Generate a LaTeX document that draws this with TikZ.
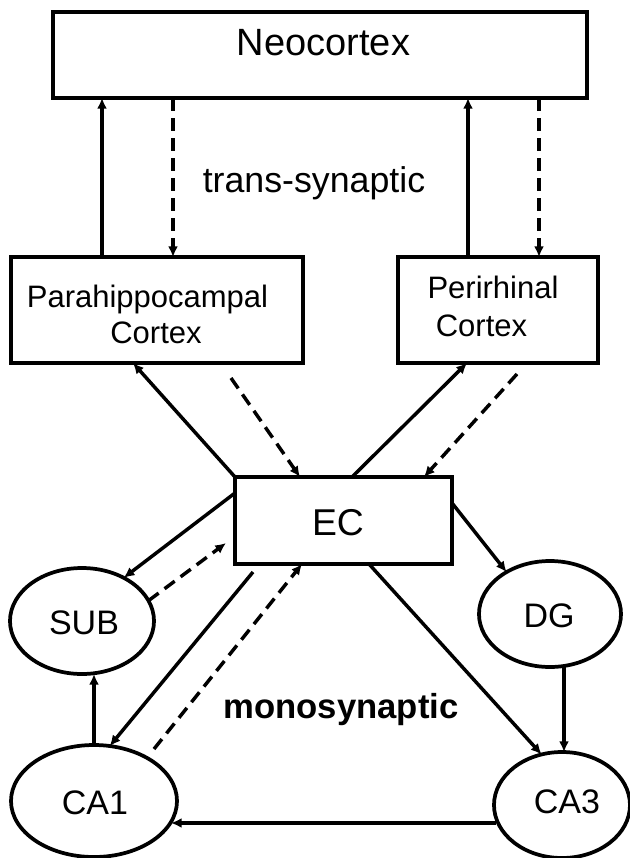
\documentclass[tikz,border=0pt]{standalone}
\usepackage{fontspec}
\setmainfont{Liberation Sans}
\usetikzlibrary{shapes.geometric,arrows.meta,calc}
\begin{document}
\begin{tikzpicture}[x=0.75pt,y=-0.75pt,
  box/.style={draw,line width=3pt,rectangle,inner sep=0pt,outer sep=0pt},
  oval/.style={draw,line width=2.8pt,ellipse,inner sep=0pt,outer sep=0pt},
  conn/.style={line width=2.6pt,-{Latex[length=8pt,width=7.5pt]}},
  dconn/.style={conn,dash pattern=on 9.5pt off 5.5pt},
  lbl/.style={anchor=base,inner sep=0pt},
  big/.style={font=\fontsize{28.5}{32}\selectfont},
  mid/.style={font=\fontsize{23.25}{26}\selectfont},
  ovl/.style={font=\fontsize{25.5}{28}\selectfont}]
\fill[white] (0,0) rectangle (630,858);
\useasboundingbox (0,0) rectangle (630,858);

% boxes and ovals
\node[box,minimum width=400.5pt,minimum height=64.5pt] (neo) at (320,55) {};
\node[box,minimum width=219pt,minimum height=79.5pt] (para) at (157,310) {};
\node[box,minimum width=150pt,minimum height=79.5pt] (peri) at (498,310) {};
\node[box,minimum width=162.75pt,minimum height=65.25pt] (ec) at (343.5,520.5) {};
\node[oval,minimum width=108pt,minimum height=79.5pt] (sub) at (82,621) {};
\node[oval,minimum width=106.5pt,minimum height=79.5pt] (dg) at (550,614) {};
\node[oval,minimum width=124.5pt,minimum height=84pt] (ca1) at (94,801) {};
\node[oval,minimum width=102pt,minimum height=79.5pt] (ca3) at (562,805) {};

% labels
\node[lbl,big] (neot) at (323.5,55) {Neocortex};
\node[lbl,font=\fontsize{26.8}{30}\selectfont] (trans) at (314,192) {trans-synaptic};
\node[lbl,font=\fontsize{26}{30}\selectfont\bfseries] (mono) at (341,718) {monosynaptic};
\node[lbl,mid] (parat1) at (147.5,307) {Parahippocampal};
\node[lbl,mid] (parat2) at (156,343) {Cortex};
\node[lbl,mid] (perit1) at (493,298) {Perirhinal};
\node[lbl,mid] (perit2) at (481.5,336) {Cortex};
\node[lbl,font=\fontsize{28}{32}\selectfont] (ect) at (338,535) {EC};
\node[lbl,ovl] (subt) at (84,634) {SUB};
\node[lbl,ovl] (dgt) at (549,627) {DG};
\node[lbl,ovl] (ca1t) at (95,814) {CA1};
\node[lbl,ovl] (ca3t) at (567,813) {CA3};

% vertical guide coordinates
\coordinate (v1) at (102,0);
\coordinate (v2) at (173,0);
\coordinate (v3) at (468,0);
\coordinate (v4) at (539,0);

% trans-synaptic connectors
\draw[conn] (para.north -| v1) -- (neo.south -| v1);
\draw[dconn] (neo.south -| v2) -- (para.north -| v2);
\draw[conn] (peri.north -| v3) -- (neo.south -| v3);
\draw[dconn] (neo.south -| v4) -- (peri.north -| v4);

% cortex <-> EC
\draw[conn] (ec.north west) -- ($(para.south)+(-24,0)$);
\draw[dconn] ($(para.south)+(74,15)$) -- ($(ec.north)+(-43.5,0)$);
\draw[conn] ($(ec.north)+(8.5,0)$) -- ($(peri.south)+(-31,0)$);
\draw[dconn] ($(peri.south)+(19,11)$) -- ($(ec.north)+(80.5,0)$);

% monosynaptic connectors
\draw[conn] ($(ec.north west)+(0,16)$) -- (sub.46);
\draw[dconn] (sub.17) -- ($(ec.north west)+(-9,66)$);
\draw[conn] ($(ec.south west)+(18,8)$) -- (ca1.74);
\draw[dconn] ($(ca1.center)+(60,-52)$) -- ($(ec.south)+(-41.5,0)$);
\draw[conn] ($(ec.north east)+(0,26)$) -- (dg.136);
\draw[conn] ($(ec.south)+(25.5,0)$) -- (ca3.112);
\draw[conn] ($(dg.south)+(14,-1)$) -- ($(ca3.north)+(2,0)$);
\draw[conn] (ca1.north) -- (sub.south -| ca1.north);
\draw[conn] ($(ca3.center)+(-66,18)$) -- ($(ca1.center)+(77,22)$);
\end{tikzpicture}
\end{document}
